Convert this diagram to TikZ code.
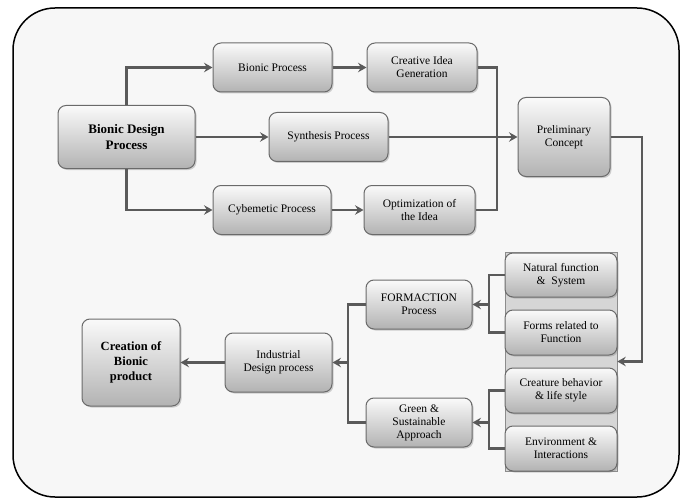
\documentclass[tikz,border=0pt]{standalone}
\usepackage{fontspec}
\setmainfont{Liberation Serif}
\usepackage{xcolor}
\usetikzlibrary{arrows.meta}
\usetikzlibrary{shadows}
\definecolor{linegray}{HTML}{5A5A5A}
\definecolor{boxedge}{HTML}{6A6A6A}
\begin{document}
\begin{tikzpicture}[x=1pt,y=-1pt]
\tikzstyle{every node}=[font=\fontsize{11.5}{13}\selectfont]
\tikzstyle{stagebox}=[draw=boxedge, line width=1pt, rounded corners=8pt, top color=black!2, bottom color=black!30, align=center, inner sep=2pt, drop shadow={shadow xshift=1.5pt, shadow yshift=-1.5pt, opacity=0.35}]
\tikzstyle{keybox}=[stagebox, font=\fontsize{13}{16}\selectfont\bfseries]
\tikzstyle{link}=[draw=linegray, line width=2.2pt]
\tikzstyle{flow}=[link, ->, >={Stealth[length=8.5pt,width=9.5pt,inset=3pt]}]
\useasboundingbox (0,0) rectangle (680,500);
\draw [line width=1.5pt, fill=black!3, rounded corners=42pt] (13,8) rectangle (679,497);
% top half
\node [keybox, minimum width=137pt, minimum height=63pt] (design) at (126.5,137) {Bionic Design\\Process};
\node [stagebox, minimum width=119pt, minimum height=49pt] (bionic) at (272.5,67.5) {Bionic Process};
\node [stagebox, minimum width=119pt, minimum height=49pt] (synth) at (328.5,137) {Synthesis Process};
\node [stagebox, minimum width=118pt, minimum height=49pt] (cyber) at (272,210) {Cybemetic Process};
\node [stagebox, minimum width=110pt, minimum height=49pt] (creative) at (422,67.5) {Creative Idea\\Generation};
\node [stagebox, minimum width=111pt, minimum height=49pt] (optim) at (419.5,210) {Optimization of\\the Idea};
\node [stagebox, minimum width=92pt, minimum height=79pt] (prelim) at (564,137) {Preliminary\\Concept};
\coordinate (join) at (497,137);
\draw [flow] (design.north) |- (bionic.west);
\draw [flow] (design.east) -- (synth.west);
\draw [flow] (design.south) |- (cyber.west);
\draw [flow] (bionic.east) -- (creative.west);
\draw [flow] (cyber.east) -- (optim.west);
\draw [link] (creative.east) -| (join);
\draw [link] (optim.east) -| (join);
\draw [flow] (synth.east) -- (prelim.west);
% bottom half
\node [draw=black!45, line width=0.6pt, fill=black!16, minimum width=112pt, minimum height=219pt, inner sep=0pt] (panel) at (561,361.5) {};
\node [stagebox, minimum width=112pt, minimum height=44pt] (natural) at (561,275) {Natural function\\\&\ \ System};
\node [stagebox, minimum width=112pt, minimum height=45pt] (forms) at (561,332.5) {Forms related to\\Function};
\node [stagebox, minimum width=112pt, minimum height=45pt] (creature) at (561,390.5) {Creature behavior\\\& life style};
\node [stagebox, minimum width=112pt, minimum height=45pt] (env) at (561,448.5) {Environment \&\\Interactions};
\node [stagebox, minimum width=106pt, minimum height=49pt] (formaction) at (419,304.5) {FORMACTION\\Process};
\node [stagebox, minimum width=106pt, minimum height=49pt] (green) at (419,422.5) {Green \&\\Sustainable\\Approach};
\node [stagebox, minimum width=107pt, minimum height=59pt] (industrial) at (278.5,362.5) {Industrial\\Design process};
\node [keybox, minimum width=98pt, minimum height=87pt, font=\fontsize{12.5}{15}\selectfont\bfseries] (creation) at (131,362.5) {Creation of\\Bionic\\product};
\coordinate (bend) at (642,361.5);
\coordinate (fjoin) at (489,304.5);
\coordinate (gjoin) at (489,422.5);
\coordinate (ljoin) at (348,362.5);
\draw [flow] (prelim.east) -| (bend) -- (panel.east);
\draw [link] (natural.west) -| (fjoin) |- (forms.west);
\draw [flow] (fjoin) -- (formaction.east);
\draw [link] (creature.west) -| (gjoin) |- (env.west);
\draw [flow] (gjoin) -- (green.east);
\draw [link] (formaction.west) -| (ljoin) |- (green.west);
\draw [flow] (ljoin) -- (industrial.east);
\draw [flow] (industrial.west) -- (creation.east);
\end{tikzpicture}
\end{document}
